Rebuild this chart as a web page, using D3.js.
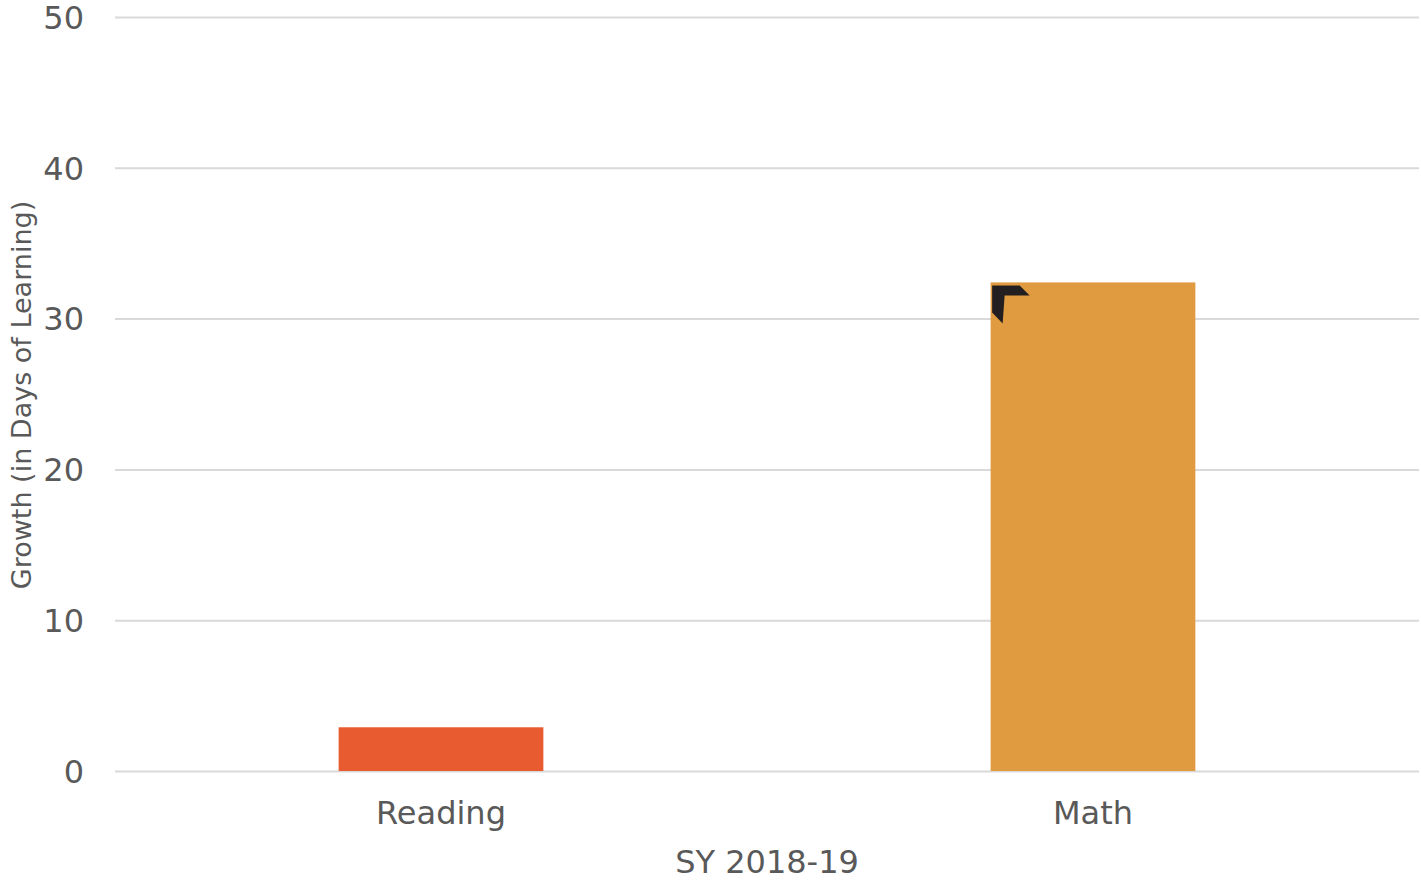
<!DOCTYPE html>
<html>
<head>
<meta charset="utf-8">
<script src="https://cdn.jsdelivr.net/npm/d3@7"></script>
<style>
  body { margin: 0; background: #fff; }
  text { font-family: "DejaVu Sans", Verdana, sans-serif; fill: #595959; }
</style>
</head>
<body>
<div id="chart"></div>
<script>
// Data ---------------------------------------------------
const subjects = ["Reading", "Math"]
const growth = [2.9, 32.4]
const barColors = ["#E85A30", "#E09B40"]
const yTicks = [0, 10, 20, 30, 40, 50]
const xTitle = "SY 2018-19"
const yTitle = "Growth (in Days of Learning)"

// Canvas setup -------------------------------------------
const W = 1421, H = 880
const MARGIN = {LEFT: 115, RIGHT: 2, TOP: 17, BOTTOM: 109}
const width = W - MARGIN.LEFT - MARGIN.RIGHT
const height = H - MARGIN.TOP - MARGIN.BOTTOM

const svg = d3.select("#chart").append("svg")
    .attr("width", W)
    .attr("height", H)

const g = svg.append("g")
    .attr("transform", `translate(${MARGIN.LEFT}, ${MARGIN.TOP})`)

// Scales -------------------------------------------------
const x = d3.scaleBand()
    .domain(subjects)
    .range([0, width])
    .paddingInner(0.686)
    .paddingOuter(0.343)

const y = d3.scaleLinear()
    .domain([0, 50])
    .range([height, 0])

// Gridlines ----------------------------------------------
g.append("g")
    .selectAll("line")
    .data(yTicks)
    .join("line")
    .attr("x1", 0)
    .attr("x2", width)
    .attr("y1", d => y(d) + 0.5)
    .attr("y2", d => y(d) + 0.5)
    .attr("stroke", "#d9d9d9")
    .attr("stroke-width", 2)

// Axes ---------------------------------------------------
const yAxis = g.append("g")
    .call(d3.axisLeft(y).tickValues(yTicks).tickSize(0).tickPadding(31))
yAxis.select(".domain").remove()
yAxis.selectAll("text")
    .style("font-size", "32px")
    .attr("dy", "0.35em")

const xAxis = g.append("g")
    .attr("transform", `translate(0,${height})`)
    .call(d3.axisBottom(x).tickSize(0).tickPadding(30))
xAxis.select(".domain").remove()
xAxis.selectAll("text")
    .style("font-size", "32px")

// Bars ---------------------------------------------------
const data = subjects.map((s, i) => ({subject: s, value: growth[i], color: barColors[i]}))

g.selectAll("rect.bar")
    .data(data)
    .join("rect")
    .attr("class", "bar")
    .attr("x", d => x(d.subject))
    .attr("y", d => y(d.value))
    .attr("width", x.bandwidth())
    .attr("height", d => y(0) - y(d.value))
    .attr("fill", d => d.color)

// little black corner marker on the Math bar
const mathBar = data[1]
g.append("path")
    .attr("transform", `translate(${x(mathBar.subject)},${y(mathBar.value)})`)
    .attr("d", "M1.5,3 L29,3 L39,13 L14,13 L12,41 L1.5,30 Z")
    .attr("fill", "#231f20")

// Titles -------------------------------------------------
svg.append("text")
    .attr("x", MARGIN.LEFT + width / 2)
    .attr("y", 873)
    .attr("text-anchor", "middle")
    .style("font-size", "32px")
    .text(xTitle)

svg.append("text")
    .attr("transform", `translate(31, ${395}) rotate(-90)`)
    .attr("text-anchor", "middle")
    .style("font-size", "27px")
    .text(yTitle)
</script>
</body>
</html>
